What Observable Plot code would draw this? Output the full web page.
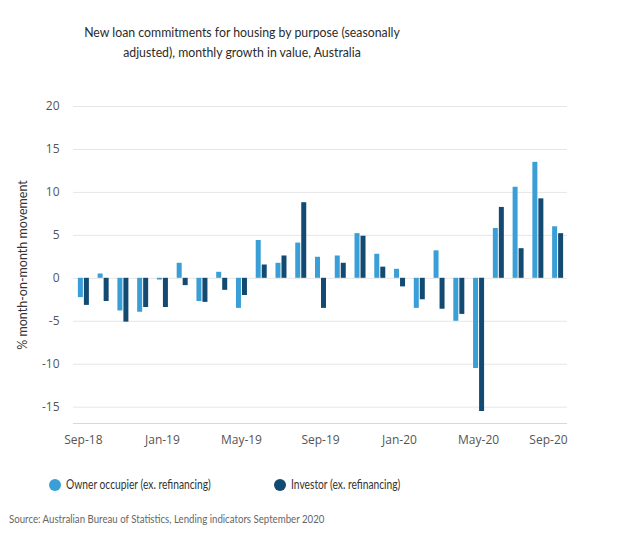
<!DOCTYPE html>
<html>
<head>
<meta charset="utf-8">
<script src="https://cdn.jsdelivr.net/npm/d3@7"></script>
<script src="https://cdn.jsdelivr.net/npm/@observablehq/plot@0.6"></script>
<style>
  body { margin: 0; background: #fff; font-family: Lato, sans-serif; }
  #wrap { position: relative; width: 619px; height: 541px; overflow: hidden; }
  #title { position: absolute; left: 0; top: 22px; width: 484px; text-align: center; font-size: 13.5px; line-height: 20px; color: #2b2b2b; transform: scaleX(0.91); transform-origin: 242px 0; }
  #chart { position: absolute; left: 0; top: 0; }
  .legend { position: absolute; top: 477px; font-size: 12.5px; color: #333; display: flex; align-items: center; }
  .legend span.sw { display: inline-block; width: 12px; height: 12px; border-radius: 50%; margin-right: 5px; }
  .legend span.lt { display: inline-block; transform: scaleX(0.82); transform-origin: 0 50%; white-space: nowrap; }
  #source { position: absolute; left: 9px; top: 512px; font-size: 11.5px; color: #666; transform: scaleX(0.84); transform-origin: 0 0; white-space: nowrap; }
</style>
</head>
<body>
<div id="wrap">
  <div id="title">New loan commitments for housing by purpose (seasonally<br>adjusted), monthly growth in value, Australia</div>
  <div id="chart"></div>
  <div class="legend" style="left:49px"><span class="sw" style="background:#3a9fd6"></span><span class="lt">Owner occupier (ex. refinancing)</span></div>
  <div class="legend" style="left:274px"><span class="sw" style="background:#124a72"></span><span class="lt">Investor (ex. refinancing)</span></div>
  <div id="source">Source: Australian Bureau of Statistics, Lending indicators September 2020</div>
</div>
<script>
const months = ["Sep-18","Oct-18","Nov-18","Dec-18","Jan-19","Feb-19","Mar-19","Apr-19","May-19","Jun-19","Jul-19","Aug-19","Sep-19","Oct-19","Nov-19","Dec-19","Jan-20","Feb-20","Mar-20","Apr-20","May-20","Jun-20","Jul-20","Aug-20","Sep-20"];
const ownerOccupier = [-2.25, 0.5, -3.8, -3.95, -0.2, 1.75, -2.7, 0.7, -3.5, 4.4, 1.75, 4.1, 2.45, 2.6, 5.2, 2.8, 1.05, -3.5, 3.2, -5.0, -10.5, 5.8, 10.6, 13.5, 6.0];
const investor = [-3.15, -2.7, -5.1, -3.4, -3.4, -0.85, -2.8, -1.4, -2.0, 1.55, 2.6, 8.8, -3.5, 1.75, 4.9, 1.3, -1.0, -2.5, -3.6, -4.2, -15.5, 8.25, 3.45, 9.25, 5.2];
const yTicks = [-15, -10, -5, 0, 5, 10, 15, 20];
const xTickLabels = ["Sep-18","Jan-19","May-19","Sep-19","Jan-20","May-20"];
const xLastTickLabel = ["Sep-20"];

const ownerData = months.map((m, i) => ({month: m, value: ownerOccupier[i]}));
const investorData = months.map((m, i) => ({month: m, value: investor[i]}));

const chart = Plot.plot({
  width: 619,
  height: 460,
  marginTop: 106,
  marginBottom: 37,
  marginLeft: 73,
  marginRight: 52,
  style: {fontFamily: "Open Sans, sans-serif", fontSize: "12px", color: "#555", background: "transparent"},
  x: {type: "band", domain: months, padding: 0, round: false, label: null},
  y: {domain: [-16.9, 20], label: null},
  marks: [
    Plot.ruleY(yTicks, {stroke: "#e6e6e6", strokeWidth: 1}),
    Plot.ruleY([-16.9], {stroke: "#c9dcef", strokeWidth: 1}),
    Plot.ruleX(ownerData, {x: "month", y1: 0, y2: "value", stroke: "#3a9fd6", strokeWidth: 5, dx: -3}),
    Plot.ruleX(investorData, {x: "month", y1: 0, y2: "value", stroke: "#124a72", strokeWidth: 5, dx: 3}),
    Plot.axisX({ticks: xTickLabels, tickSize: 0, tickPadding: 12, fontSize: 12, label: null}),
    Plot.axisX({ticks: xLastTickLabel, tickSize: 0, tickPadding: 12, fontSize: 12, label: null, textAnchor: "end", dx: 10}),
    Plot.axisY({ticks: yTicks, tickSize: 0, tickPadding: 14, fontSize: 12, label: null, tickFormat: d => String(d)}),
    Plot.text(["% month-on-month movement"], {frameAnchor: "left", textAnchor: "middle", dx: -51, rotate: -90, fontSize: 12.5, fill: "#333", fontFamily: "Lato, sans-serif"})
  ]
});
document.getElementById("chart").appendChild(chart);
</script>
</body>
</html>
